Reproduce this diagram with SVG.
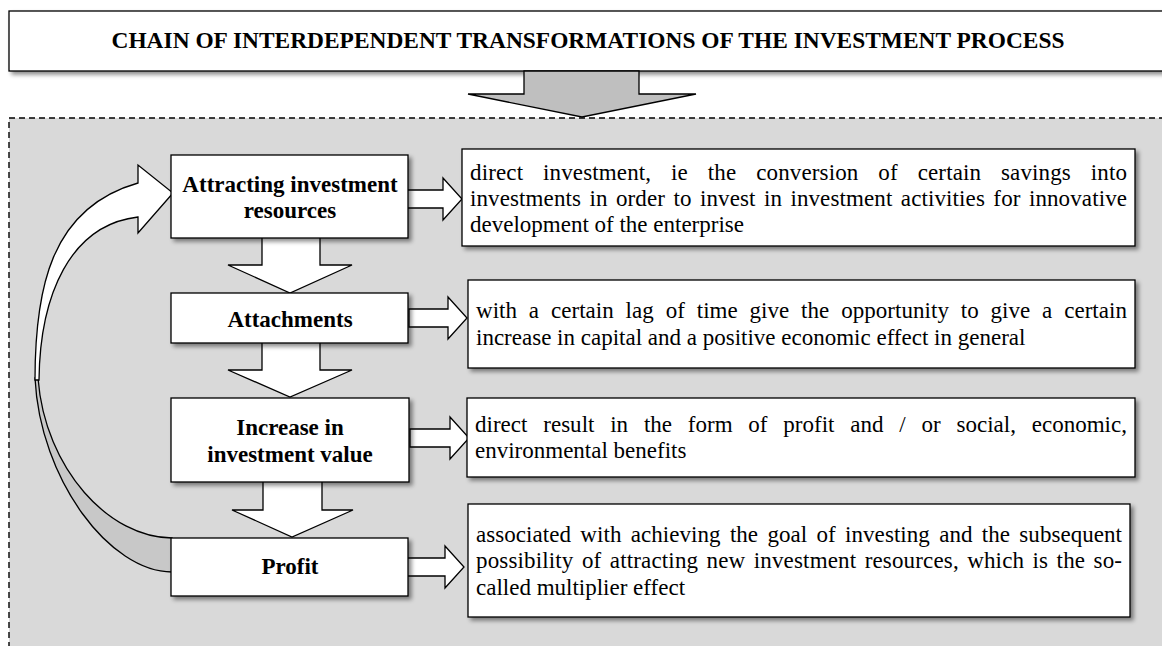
<svg xmlns="http://www.w3.org/2000/svg" width="1162" height="646" viewBox="0 0 1162 646">
<defs>
<filter id="sh" x="-5%" y="-10%" width="115%" height="130%">
<feDropShadow dx="3" dy="3" stdDeviation="2" flood-color="#000" flood-opacity="0.45"/>
</filter>
</defs>
<style>
.box{fill:#fff;stroke:#000;stroke-width:1.3;filter:url(#sh)}
.ttl{font-family:"Liberation Serif","Times New Roman",serif;font-weight:bold;font-size:23px;fill:#000}
.lbl{font-family:"Liberation Serif","Times New Roman",serif;font-weight:bold;font-size:23px;fill:#000;text-anchor:middle}
.txt{font-family:"Liberation Serif","Times New Roman",serif;font-size:23px;fill:#000}
.arr{fill:#fff;stroke:#000;stroke-width:1.3;stroke-linejoin:miter}
</style>
<rect width="1162" height="646" fill="#fff"/>
<!-- dashed background panel -->
<rect x="9" y="118" width="1170" height="540" fill="#d9d9d9" stroke="#000" stroke-width="1.4" stroke-dasharray="6,4"/>

<g id="title">
<rect class="box" x="9" y="11" width="1170" height="60"/>
<text class="ttl" x="588" y="48" text-anchor="middle" textLength="953" lengthAdjust="spacingAndGlyphs">CHAIN OF INTERDEPENDENT TRANSFORMATIONS OF THE INVESTMENT PROCESS</text>
</g>

<g id="connectors">
<path d="M524,71 H639 V94 H696 L582,117 L468,94 H524 Z" fill="#bfbfbf" stroke="#000" stroke-width="1.3"/>
<!-- feedback curved arrow -->
<path d="M35,378 C40,480 110,572 172,572 L172,538 C110,538 45,470 38,378 Z" fill="#c8c8c8" stroke="#000" stroke-width="1.3"/>
<path class="arr" d="M35,380 C35,290 50,208 138,183 L138,165 L173,193 L138,233 L138,217 C70,225 40,295 39,380 Z"/>
<!-- vertical block arrows -->
<path class="arr" d="M262,237 H320 V265 H352 L290,293 L228,265 H262 Z"/>
<path class="arr" d="M262,342 H320 V370 H352 L290,397 L228,370 H262 Z"/>
<path class="arr" d="M263,481 H322 V510 H353 L292,537 L232,510 H263 Z"/>
<!-- horizontal block arrows -->
<path class="arr" d="M407,190 H443 V178 L462,199 L443,220 V208 H407 Z"/>
<path class="arr" d="M409,309 H448 V297 L467,318 L448,339 V327 H409 Z"/>
<path class="arr" d="M410,429 H450 V417 L469,438 L450,459 V447 H410 Z"/>
<path class="arr" d="M407,558 H445 V546 L464,567 L445,588 V576 H407 Z"/>
</g>

<g id="n1">
<rect class="box" x="171" y="155" width="237" height="83"/>
<text class="lbl" x="290" y="192">Attracting investment</text>
<text class="lbl" x="290" y="218">resources</text>
</g>
<g id="n2">
<rect class="box" x="171" y="293" width="237" height="50"/>
<text class="lbl" x="290" y="327">Attachments</text>
</g>
<g id="n3">
<rect class="box" x="171" y="398" width="238" height="84"/>
<text class="lbl" x="290" y="435">Increase in</text>
<text class="lbl" x="290" y="462">investment value</text>
</g>
<g id="n4">
<rect class="box" x="171" y="538" width="237" height="58"/>
<text class="lbl" x="290" y="574">Profit</text>
</g>

<g id="d1">
<rect class="box" x="462" y="149" width="673" height="97"/>
<text class="txt" x="470" y="180" word-spacing="14" textLength="657" lengthAdjust="spacing">direct investment, ie the conversion of certain savings into</text>
<text class="txt" x="470" y="206" word-spacing="2.5" textLength="657" lengthAdjust="spacing">investments in order to invest in investment activities for innovative</text>
<text class="txt" x="470" y="232">development of the enterprise</text>
</g>
<g id="d2">
<rect class="box" x="468" y="280" width="667" height="88"/>
<text class="txt" x="476" y="318" word-spacing="6" textLength="651" lengthAdjust="spacing">with a certain lag of time give the opportunity to give a certain</text>
<text class="txt" x="476" y="345">increase in capital and a positive economic effect in general</text>
</g>
<g id="d3">
<rect class="box" x="467" y="398" width="668" height="79"/>
<text class="txt" x="475" y="432" word-spacing="10" textLength="652" lengthAdjust="spacing">direct result in the form of profit and / or social, economic,</text>
<text class="txt" x="475" y="458">environmental benefits</text>
</g>
<g id="d4">
<rect class="box" x="468" y="504" width="662" height="113"/>
<text class="txt" x="476" y="542" word-spacing="3.5" textLength="646" lengthAdjust="spacing">associated with achieving the goal of investing and the subsequent</text>
<text class="txt" x="476" y="568" word-spacing="2.5" textLength="646" lengthAdjust="spacing">possibility of attracting new investment resources, which is the so-</text>
<text class="txt" x="476" y="595">called multiplier effect</text>
</g>
</svg>
